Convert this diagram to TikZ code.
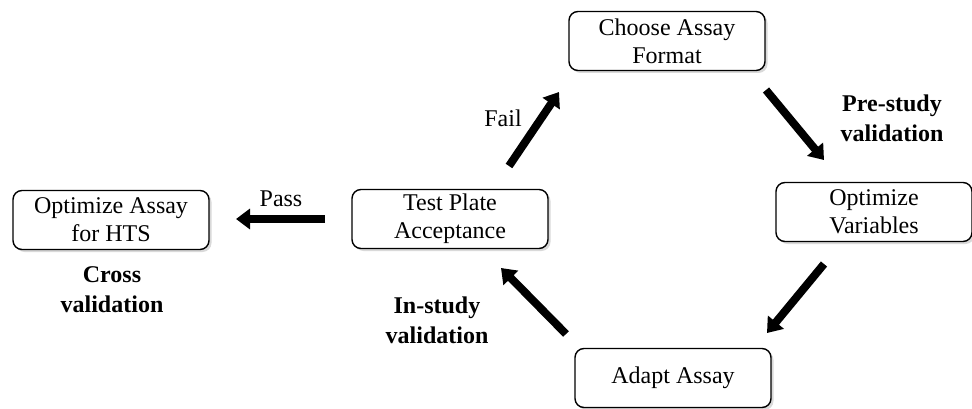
\documentclass[tikz,border=0pt]{standalone}
\usepackage{fontspec}
\setmainfont{Liberation Serif}
\usetikzlibrary{arrows.meta,shadows}
\begin{document}
\begin{tikzpicture}[x=1pt,y=-1pt,
  stepbox/.style={draw=black,line width=1.4pt,rounded corners=9pt,fill=white,
    minimum width=196pt,minimum height=59pt,align=center,inner sep=0pt,
    font=\fontsize{24}{28}\selectfont,
    drop shadow={shadow xshift=2.5pt,shadow yshift=-2.5pt,opacity=0.3}},
  lbl/.style={align=center,font=\fontsize{24}{28}\selectfont},
  blbl/.style={align=center,font=\fontsize{24}{30}\selectfont\bfseries},
  bigarrow/.style={line width=8pt,-{Triangle[length=14pt,width=20pt]}}]
\useasboundingbox (0,0) rectangle (972,409);
% boxes
\node[stepbox] (choose) at (667,41) {Choose Assay\\Format};
\node[stepbox] (optvar) at (874,212) {Optimize\\Variables};
\node[stepbox] (adapt) at (673,378) {Adapt Assay};
\node[stepbox] (test) at (450,219) {Test Plate\\Acceptance};
\node[stepbox] (hts) at (111,220) {Optimize Assay\\for HTS};
% labels
\node[lbl] (fail) at (503,118) {Fail};
\node[lbl] (pass) at (281,199) {Pass};
\node[blbl] (pre) at (892,118) {Pre-study\\validation};
\node[blbl] (in) at (437,320) {In-study\\validation};
\node[blbl] (cross) at (112,290) {Cross\\validation};
% arrow end points
\coordinate (f1) at (509,166);
\coordinate (f2) at (559,92);
\coordinate (p1) at (766,90);
\coordinate (p2) at (824,160);
\coordinate (r1) at (824,264);
\coordinate (r2) at (767,333);
\coordinate (i1) at (566,334);
\coordinate (i2) at (501,268);
\coordinate (s1) at (325,219);
\coordinate (s2) at (236,219);
\draw[bigarrow] (f1) -- (f2);
\draw[bigarrow] (p1) -- (p2);
\draw[bigarrow] (r1) -- (r2);
\draw[bigarrow] (i1) -- (i2);
\draw[bigarrow] (s1) -- (s2);
\end{tikzpicture}
\end{document}
